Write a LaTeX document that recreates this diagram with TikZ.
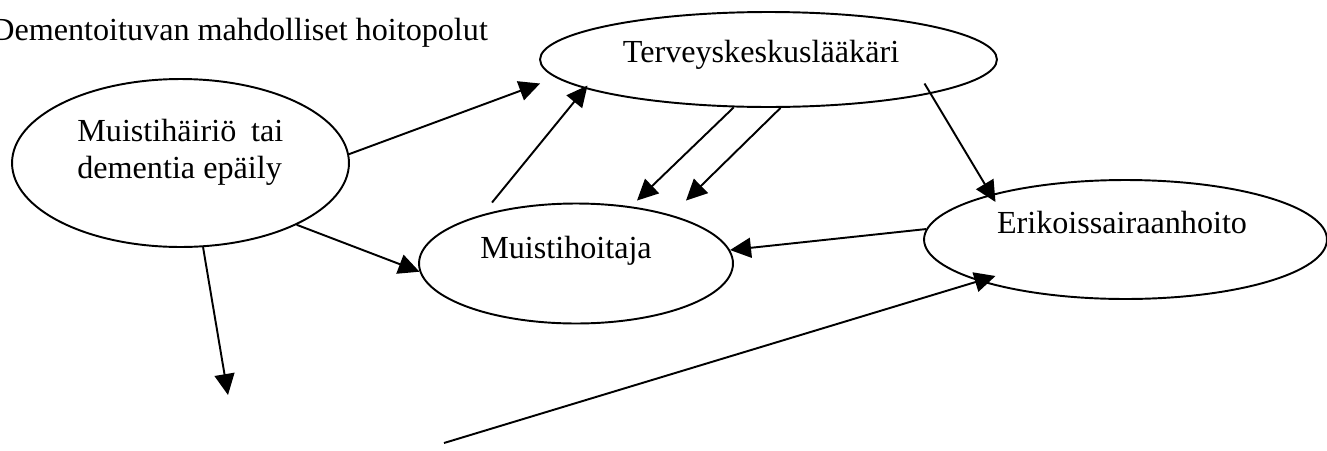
\documentclass[tikz,border=0pt]{standalone}
\usepackage{fontspec}
\setmainfont{Liberation Serif}
\usepackage{tikz}
\usetikzlibrary{arrows.meta,shapes.geometric}
\tikzstyle{oval} = [draw, ellipse, line width=1.1pt, inner sep=0pt]
\tikzstyle{txt} = [font=\fontsize{18.3}{21.3}\selectfont, inner sep=0pt]
\tikzstyle{arrow} = [line width=1.1pt, -{Triangle[length=0.42cm, width=0.4cm]}]

\begin{document}
\begin{tikzpicture}[x=0.02cm, y=-0.02cm]
    \clip (0,0) rectangle (1327,450);

    % Title
    \node[txt, anchor=base west] (title) at (-9,40) {Dementoituvan mahdolliset hoitopolut};

    % Ellipses
    \node[oval, minimum width=6.74cm, minimum height=3.36cm] (epaily) at (180.5,163) {};
    \node[oval, minimum width=9.14cm, minimum height=1.9cm] (tkl) at (768.5,59.5) {};
    \node[oval, minimum width=6.28cm, minimum height=2.4cm] (hoitaja) at (576,263.5) {};
    \node[oval, minimum width=8.06cm, minimum height=2.38cm] (esh) at (1125.5,239.5) {};

    % Texts in the ellipses
    \node[txt, anchor=north west, align=left] (epailyteksti)
        at ([shift={(-103.5,-44.6)}]epaily.center) {\makebox[4.12cm][s]{Muistihäiriö tai}\\dementia epäily};
    \node[txt, anchor=base] (tklteksti) at ([shift={(-7.5,2.5)}]tkl.center) {Terveyskeskuslääkäri};
    \node[txt, anchor=base] (hoitajateksti) at ([shift={(-10,-5.5)}]hoitaja.center) {Muistihoitaja};
    \node[txt, anchor=base] (eshteksti) at ([shift={(-3.5,-6.5)}]esh.center) {Erikoissairaanhoito};

    % Free ends
    \coordinate (alas) at (228,395);
    \coordinate (alku) at (444,443);

    % Arrows
    \draw[arrow] (epaily.3) -- ([shift={(1,24)}]tkl.west);
    \draw[arrow] (epaily.-28) -- (hoitaja.183);
    \draw[arrow] (epaily.-75) -- (alas);
    \draw[arrow] ([shift={(-84,0)}]hoitaja.north) -- ([shift={(-181,26)}]tkl.center);
    \draw[arrow] (tkl.234) -- ([shift={(61,-2)}]hoitaja.north);
    \draw[arrow] (tkl.284) -- ([shift={(110,-2)}]hoitaja.north);
    \draw[arrow] ([shift={(156,24)}]tkl.center) -- ([shift={(-130,-37.5)}]esh.center);
    \draw[arrow] (esh.177) -- (hoitaja.5);
    \draw[arrow] (alku) -- ([shift={(-130,36.5)}]esh.center);
\end{tikzpicture}
\end{document}
